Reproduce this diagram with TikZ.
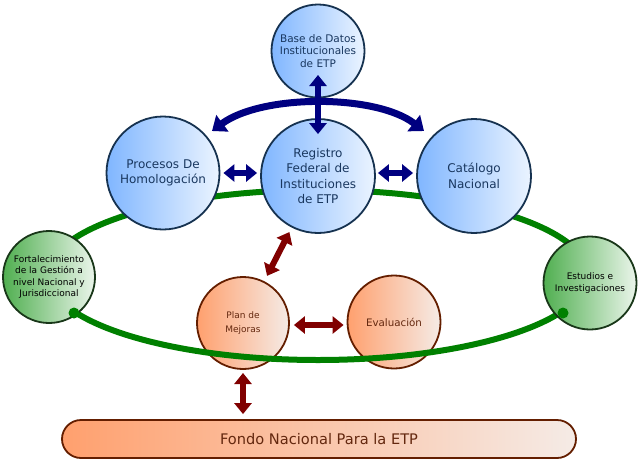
\documentclass[tikz,border=0pt]{standalone}
\usepackage{fontspec}
\setmainfont{DejaVu Sans}
\usetikzlibrary{arrows.meta,calc}
\definecolor{navyA}{RGB}{0,0,128}
\definecolor{redA}{RGB}{128,0,0}
\definecolor{grn}{RGB}{0,128,0}
\definecolor{bluL}{RGB}{128,182,255}
\definecolor{bluR}{RGB}{235,244,255}
\definecolor{bluB}{RGB}{22,50,80}
\definecolor{bluT}{RGB}{25,55,95}
\definecolor{grL}{RGB}{80,175,80}
\definecolor{grR}{RGB}{235,245,235}
\definecolor{grB}{RGB}{25,55,25}
\definecolor{orL}{RGB}{255,160,110}
\definecolor{orR}{RGB}{245,235,230}
\definecolor{orB}{RGB}{100,30,0}
\definecolor{orT}{RGB}{100,40,15}
\tikzset{
  bluec/.style={circle, draw=bluB, line width=1.8pt, left color=bluL, right color=bluR, text=bluT, align=center, inner sep=0pt, minimum size=#1},
  grnc/.style={circle, draw=grB, line width=1.8pt, left color=grL, right color=grR, text=black, align=center, inner sep=0pt, minimum size=#1},
  orc/.style={circle, draw=orB, line width=1.8pt, left color=orL, right color=orR, text=orT, align=center, inner sep=0pt, minimum size=#1},
  barrow/.style={navyA, line width=5.5pt, {Triangle[width=17pt,length=11pt]}-{Triangle[width=17pt,length=11pt]}},
  bigarrow/.style={navyA, line width=7pt, {Triangle[width=20pt,length=13pt]}-{Triangle[width=20pt,length=13pt]}},
  rarrow/.style={redA, line width=6pt, {Triangle[width=17pt,length=11pt]}-{Triangle[width=17pt,length=11pt]}},
  greenline/.style={grn, line width=6pt},
}
\begin{document}
\begin{tikzpicture}[x=1pt,y=-1pt]
\useasboundingbox (0,0) rectangle (638,461);
% fondo bar
\node[draw=orB, line width=1.8pt, left color=orL, right color=orR, rounded corners=19pt,
      minimum width=514pt, minimum height=38pt, inner sep=0pt, text=orT,
      font=\fontsize{14.6}{16}\selectfont] (fondo) at (319,439) {Fondo Nacional Para la ETP};
% orange circles
\node[orc=92pt, font=\fontsize{9}{14}\selectfont] (plan) at (243,323) {Plan de\\Mejoras};
\node[orc=93pt, font=\fontsize{10.3}{12}\selectfont] (eval) at (394,322) {Evaluación};
% green ellipse
\draw[greenline] (318,275) ellipse [x radius=270pt, y radius=85pt];
% blue circles
\node[bluec=93pt, font=\fontsize{10.5}{12.8}\selectfont] (base) at (318,51) {Base de Datos\\Institucionales\\de ETP};
\node[bluec=113pt, font=\fontsize{12}{15}\selectfont] (proc) at (163,173) {Procesos De\\Homologación};
\node[bluec=114pt, font=\fontsize{12}{15.3}\selectfont] (reg) at (318,176) {Registro\\Federal de\\Instituciones\\de ETP};
\node[bluec=114pt, font=\fontsize{12}{15.5}\selectfont] (cat) at (474,176) {Catálogo\\Nacional};
% green circles
\node[grnc=92pt, font=\fontsize{9}{11.5}\selectfont] (fort) at (49,277) {Fortalecimiento\\de la Gestión a\\nivel Nacional y\\Jurisdiccional};
\node[grnc=93pt, font=\fontsize{9}{12}\selectfont] (est) at (590,283) {Estudios e\\Investigaciones};
% dots
\fill[grn] (74,313) circle [radius=5.5pt];
\fill[grn] (563,313) circle [radius=5.5pt];
% blue arrows
\coordinate (cl) at ($(proc.center)+(49,-42)$);
\coordinate (cr) at ($(cat.center)+(-50,-45)$);
\draw[bigarrow] (cl) .. controls (262,94) and (376,94) .. (cr);
\draw[barrow] ($(base.center)+(0,24)$) -- ($(reg.north)+(0,16)$);
\draw[barrow, shorten <=3pt, shorten >=3pt] (proc.east) -- (proc.east -| reg.west);
\draw[barrow, shorten <=2pt, shorten >=3pt] (reg.east |- 0,173) -- (cat.west |- 0,173);
% red arrows
\draw[rarrow, shorten <=5pt, shorten >=6pt] (reg) -- (plan);
\draw[rarrow, shorten <=4pt, shorten >=3pt] (plan.east |- 0,325) -- (eval.west |- 0,325);
\draw[rarrow, shorten <=4pt, shorten >=5pt] (plan.south |- 0,369) -- (fondo.north -| plan.south);
\end{tikzpicture}
\end{document}
